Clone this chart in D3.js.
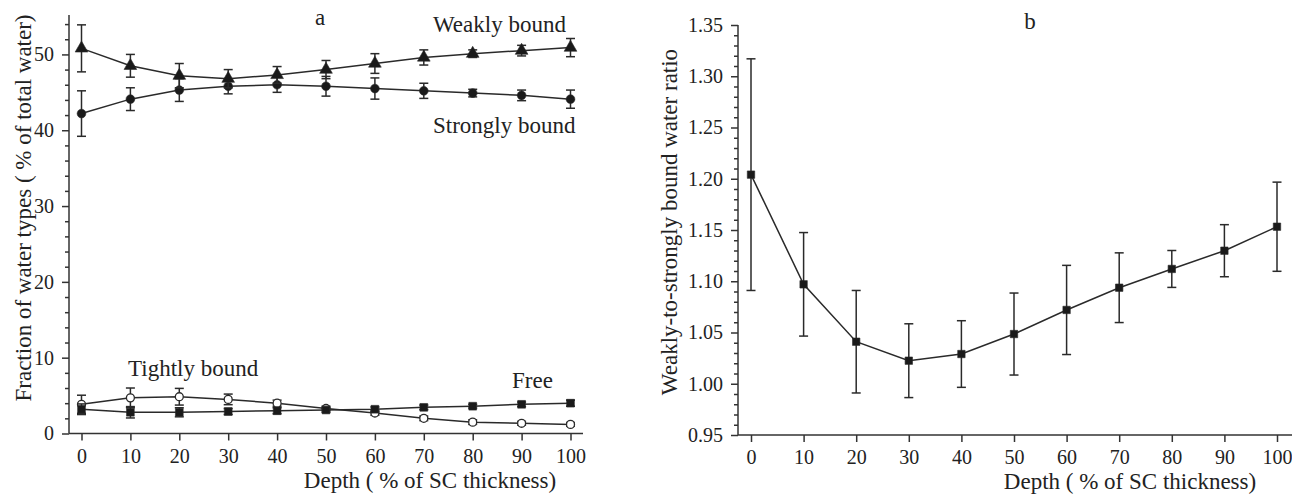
<!DOCTYPE html>
<html>
<head>
<meta charset="utf-8">
<script src="https://cdn.jsdelivr.net/npm/d3@7"></script>
<style>
  body { margin: 0; background: #fff; }
  svg { display: block; }
  text { font-family: "Liberation Serif", "Times New Roman", serif; fill: #222; }
  .axis path, .axis line { stroke: #333; stroke-width: 1.5; }
  .axis text { font-size: 20px; font-family: "Liberation Serif", serif; fill: #222; }
</style>
</head>
<body>
<div id="chart"></div>
<script>
// depth (% of SC thickness)
var depth = [0, 10, 20, 30, 40, 50, 60, 70, 80, 90, 100];

// panel a: fraction of water types (% of total water)
var weakly = [50.8, 48.5, 47.2, 46.8, 47.3, 48.0, 48.8, 49.6, 50.1, 50.5, 50.9];
var weaklyErr = [3.1, 1.5, 1.6, 1.2, 1.1, 1.2, 1.3, 1.0, 0.5, 0.7, 1.2];
var strongly = [42.2, 44.1, 45.3, 45.8, 46.0, 45.8, 45.5, 45.2, 44.9, 44.6, 44.1];
var stronglyErr = [3.0, 1.5, 1.5, 1.0, 1.0, 1.3, 1.4, 1.0, 0.5, 0.7, 1.2];
var tightly = [3.85, 4.7, 4.85, 4.5, 4.0, 3.3, 2.7, 2.0, 1.5, 1.35, 1.2];
var tightlyErr = [1.2, 1.3, 1.1, 0.7, 0.4, 0.3, 0.3, 0.3, 0.3, 0.25, 0.25];
var free = [3.2, 2.8, 2.8, 2.9, 3.0, 3.1, 3.2, 3.45, 3.6, 3.85, 4.0];
var freeErr = [0.7, 0.75, 0.6, 0.4, 0.4, 0.3, 0.3, 0.3, 0.25, 0.3, 0.4];

// panel b: weakly-to-strongly bound water ratio
var ratio = [1.204, 1.097, 1.041, 1.0225, 1.029, 1.0485, 1.072, 1.0937, 1.112, 1.1298, 1.1532];
var ratioErr = [0.113, 0.0505, 0.05, 0.036, 0.0325, 0.04, 0.0435, 0.034, 0.018, 0.0254, 0.0435];

var xTicks = [0, 10, 20, 30, 40, 50, 60, 70, 80, 90, 100];
var yTicksA = [0, 10, 20, 30, 40, 50];
var yTicksB = [0.95, 1.00, 1.05, 1.10, 1.15, 1.20, 1.25, 1.30, 1.35];

var width = 1292, height = 494;
var ink = "#2a2a2a";

var svg = d3.select("#chart").append("svg")
    .attr("width", width)
    .attr("height", height);

function zip(vals, errs) {
    return depth.map(function(d, i) { return {x: d, y: vals[i], e: errs[i]}; });
}

// draw one panel's axes, returns scales
function drawAxes(opt) {
    var x = d3.scaleLinear().domain([0, 100]).range(opt.xRange);
    var y = d3.scaleLinear().domain(opt.yDomain).range(opt.yRange);

    // minor y ticks
    svg.append("g")
        .attr("class", "axis")
        .attr("transform", "translate(" + opt.axisX + ",0)")
        .call(d3.axisLeft(y).tickValues(opt.minor).tickSize(4).tickFormat(""))
        .call(function(g) { g.select(".domain").remove(); });

    svg.append("g")
        .attr("class", "axis")
        .attr("transform", "translate(" + opt.axisX + ",0)")
        .call(d3.axisLeft(y).tickValues(opt.yTicks).tickSize(7).tickSizeOuter(0).tickPadding(8).tickFormat(opt.yFormat))
        .call(function(g) {
            g.select(".domain").attr("d", "M0," + opt.yRange[1] + "V" + opt.yRange[0]);
        });

    svg.append("g")
        .attr("class", "axis")
        .attr("transform", "translate(0," + opt.yRange[0] + ")")
        .call(d3.axisBottom(x).tickValues(xTicks).tickSize(7).tickSizeOuter(0).tickPadding(8))
        .call(function(g) {
            g.select(".domain").attr("d", "M" + opt.axisX + ",0H" + opt.xEnd);
        });

    return {x: x, y: y};
}

function drawSeries(s, data, marker) {
    var g = svg.append("g");
    var line = d3.line().x(function(d) { return s.x(d.x); }).y(function(d) { return s.y(d.y); });

    g.append("path")
        .datum(data)
        .attr("d", line)
        .attr("fill", "none")
        .attr("stroke", ink)
        .attr("stroke-width", 1.5);

    var eb = g.selectAll(".eb").data(data).enter().append("g");
    eb.append("line")
        .attr("x1", function(d) { return s.x(d.x); })
        .attr("x2", function(d) { return s.x(d.x); })
        .attr("y1", function(d) { return s.y(d.y + d.e); })
        .attr("y2", function(d) { return s.y(d.y - d.e); })
        .attr("stroke", ink).attr("stroke-width", 1.5);
    [1, -1].forEach(function(sg) {
        eb.append("line")
            .attr("x1", function(d) { return s.x(d.x) - 4.5; })
            .attr("x2", function(d) { return s.x(d.x) + 4.5; })
            .attr("y1", function(d) { return s.y(d.y + sg * d.e); })
            .attr("y2", function(d) { return s.y(d.y + sg * d.e); })
            .attr("stroke", ink).attr("stroke-width", 1.5);
    });

    var sym = d3.symbol().type(marker.type).size(marker.size);
    g.selectAll(".mk").data(data).enter().append("path")
        .attr("transform", function(d) { return "translate(" + s.x(d.x) + "," + s.y(d.y) + ")"; })
        .attr("d", sym)
        .attr("fill", marker.open ? "#fff" : "#1a1a1a")
        .attr("stroke", ink)
        .attr("stroke-width", marker.open ? 1.3 : 0.6);
}

function label(txt, x, y, size, anchor, rotate) {
    var t = svg.append("text")
        .attr("font-size", size)
        .attr("text-anchor", anchor || "start")
        .text(txt);
    if (rotate) {
        t.attr("transform", "translate(" + x + "," + y + ") rotate(-90)");
    } else {
        t.attr("x", x).attr("y", y);
    }
    return t;
}

// ---- panel a ----
var minorA = d3.range(0, 56, 2).filter(function(v) { return v % 10 !== 0; });
var sa = drawAxes({
    xRange: [81.5, 570.5],
    yDomain: [0, 55.2],
    yRange: [433.5, 15],
    axisX: 69,
    xEnd: 583,
    yTicks: yTicksA,
    minor: minorA,
    yFormat: d3.format("d")
});

drawSeries(sa, zip(tightly, tightlyErr), {type: d3.symbolCircle, size: 50, open: true});
drawSeries(sa, zip(free, freeErr), {type: d3.symbolSquare, size: 60});
drawSeries(sa, zip(strongly, stronglyErr), {type: d3.symbolCircle, size: 60});
drawSeries(sa, zip(weakly, weaklyErr), {type: d3.symbolTriangle, size: 70});

var fs = 23;
label("a", 320, 25, fs, "middle");
label("Weakly bound", 433, 32, fs);
label("Strongly bound", 433, 133, fs);
label("Tightly bound", 128, 376, fs);
label("Free", 512, 388, fs);
label("Depth ( % of SC thickness)", 430, 488, fs, "middle");
label("Fraction of water types ( % of total water)", 31, 208, fs, "middle", true);

// ---- panel b ----
var minorB = d3.range(95, 136, 1).filter(function(v) { return v % 5 !== 0; }).map(function(v) { return v / 100; });
var sb = drawAxes({
    xRange: [751, 1277],
    yDomain: [0.95, 1.35],
    yRange: [435, 25],
    axisX: 738,
    xEnd: 1292,
    yTicks: yTicksB,
    minor: minorB,
    yFormat: d3.format(".2f")
});

drawSeries(sb, zip(ratio, ratioErr), {type: d3.symbolSquare, size: 55});

label("b", 1030, 29, fs, "middle");
label("Depth ( % of SC thickness)", 1130, 489, fs, "middle");
label("Weakly-to-strongly bound water ratio", 677, 222, fs, "middle", true);
</script>
</body>
</html>
